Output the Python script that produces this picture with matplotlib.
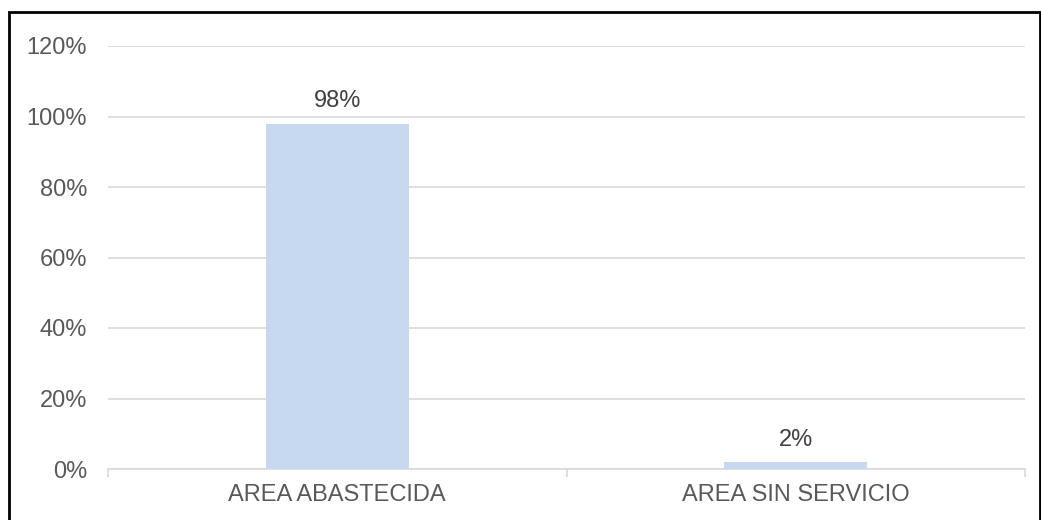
import matplotlib
import matplotlib.pyplot as plt
from matplotlib.patches import Rectangle
from matplotlib.ticker import FixedLocator

matplotlib.use('Agg')

categories = ["AREA ABASTECIDA", "AREA SIN SERVICIO"]
values = [0.98, 0.02]
value_labels = ["98%", "2%"]
y_ticks = [0, 0.2, 0.4, 0.6, 0.8, 1.0, 1.2]

plt.rcParams['font.family'] = ['Liberation Sans', 'DejaVu Sans']

fig = plt.figure(figsize=(10.41, 5.2), dpi=100)
ax = fig.add_axes([108 / 1041, 1 - 469 / 520, (1025 - 108) / 1041, (469 - 46) / 520])

x = list(range(len(categories)))
ax.bar(x, values, width=0.312, color='#C6D9F1', zorder=3)

for xi, v, lab in zip(x, values, value_labels):
    ax.annotate(lab, (xi, v), xytext=(0, 8), textcoords='offset points',
                ha='center', va='bottom', fontsize=17, color='#404040')

ax.set_xlim(-0.5, 1.5)
ax.set_ylim(0, 1.2)
ax.set_yticks(y_ticks)
ax.set_yticklabels([f"{int(round(t * 100))}%" for t in y_ticks])
ax.yaxis.grid(True, color='#D9D9D9', linewidth=1.2, zorder=0)
ax.tick_params(axis='y', length=0, labelsize=17, labelcolor='#595959', pad=15)

ax.set_xticks(x)
ax.set_xticklabels(categories)
ax.tick_params(axis='x', which='major', length=0, labelsize=17, labelcolor='#595959', pad=11)
ax.xaxis.set_minor_locator(FixedLocator([-0.5, 0.5, 1.5]))
ax.tick_params(axis='x', which='minor', length=6, color='#D9D9D9', width=1.2)

for s in ['top', 'right', 'left']:
    ax.spines[s].set_visible(False)
ax.spines['bottom'].set_color('#D9D9D9')
ax.spines['bottom'].set_linewidth(1.2)

# black frame around the chart
fig.patches.append(Rectangle((9 / 1041, -0.01), (1040 - 9) / 1041, 1.01 - 12 / 520,
                             transform=fig.transFigure, fill=False,
                             edgecolor='black', linewidth=2))

fig.savefig('out.png', dpi=100)
